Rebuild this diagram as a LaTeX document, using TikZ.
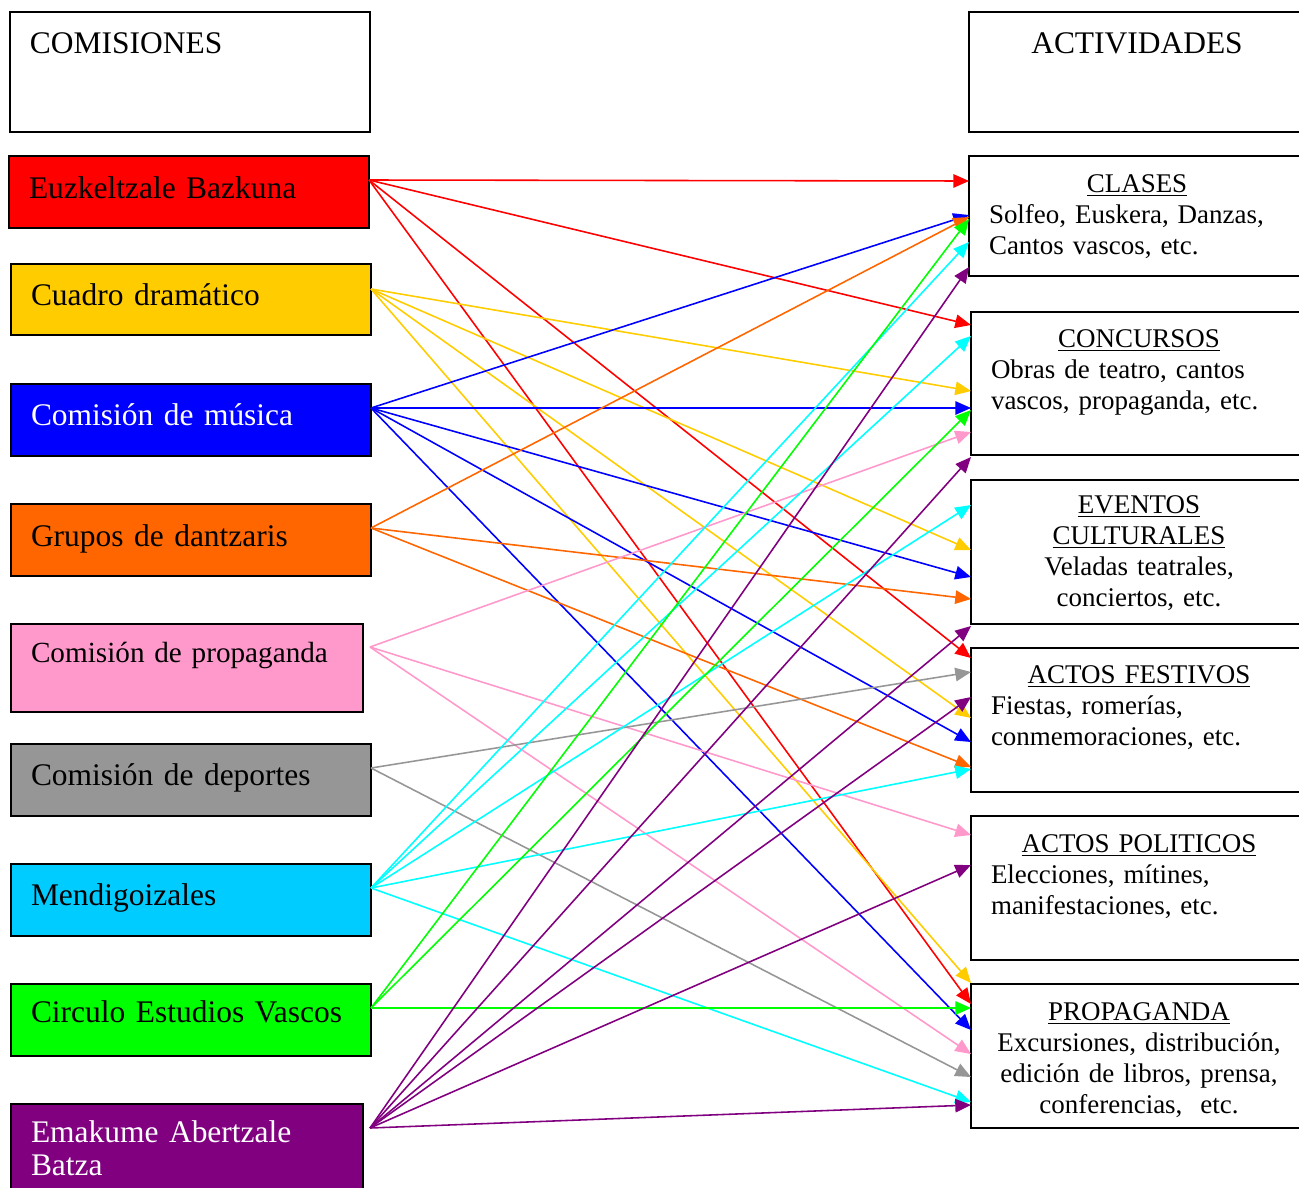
\documentclass[tikz,border=0pt]{standalone}
\usepackage{fontspec}
\setmainfont{Liberation Serif}
\usetikzlibrary{arrows.meta}

\definecolor{rojo}{HTML}{FF0000}
\definecolor{amarillo}{HTML}{FFCC00}
\definecolor{azul}{HTML}{0000FF}
\definecolor{naranja}{HTML}{FF6600}
\definecolor{rosa}{HTML}{FF99CC}
\definecolor{gris}{HTML}{969696}
\definecolor{celeste}{HTML}{00CCFF}
\definecolor{cian}{HTML}{00FFFF}
\definecolor{verde}{HTML}{00FF00}
\definecolor{morado}{HTML}{800080}

\newlength{\upx}
\setlength{\upx}{0.445pt}
\newcommand{\titulo}[1]{{\centering\underline{#1}\par}}

\begin{document}
\begin{tikzpicture}[x=\upx, y=-\upx,
  caja/.style={draw, line width=0.9pt, anchor=north west, inner ysep=0pt, inner xsep=20\upx, outer sep=0pt},
  comision/.style={caja, font=\fontsize{14}{14.7}\selectfont, text width=320\upx, align=left},
  actividad/.style={caja, font=\fontsize{12}{13.8}\selectfont, text width=296\upx, align=left},
  flecha/.style={line width=0.7pt, -{Triangle[length=7pt, width=6pt]}}]
\useasboundingbox (0, 0) rectangle (1299, 1187);
\clip (0, 0) rectangle (1299, 1187);

% comisiones
\node[comision, text height=41\upx, text depth=79\upx] (comisiones) at (10, 12) {COMISIONES};
\node[comision, fill=rojo, text height=42\upx, text depth=30\upx] (eb) at (9, 156) {Euzkeltzale Bazkuna};
\node[comision, fill=amarillo, text height=41\upx, text depth=30\upx] (cd) at (11, 264) {Cuadro dramático};
\node[comision, fill=azul, text=white, text height=41\upx, text depth=31\upx] (cm) at (11, 384) {Comisión de música};
\node[comision, fill=naranja, text height=42\upx, text depth=30\upx] (gd) at (11, 504) {Grupos de dantzaris};
\node[comision, fill=rosa, font=\fontsize{13}{14.7}\selectfont, text width=312\upx, text height=38\upx, text depth=50\upx] (cp) at (11, 624) {\mbox{Comisión de propaganda}};
\node[comision, fill=gris, text height=41\upx, text depth=31\upx] (cdep) at (11, 744) {Comisión de deportes};
\node[comision, fill=celeste, text height=41\upx, text depth=31\upx] (mg) at (11, 864) {Mendigoizales};
\node[comision, fill=verde, text height=38\upx, text depth=34\upx] (cev) at (11, 984) {Circulo Estudios Vascos};
\node[comision, fill=morado, text=white, text width=312\upx, text height=38\upx, text depth=62\upx] (eab) at (11, 1104) {Emakume Abertzale\\Batza};

% actividades
\node[actividad, font=\fontsize{14}{14.7}\selectfont, align=center, text height=41\upx, text depth=79\upx] (actividades) at (969, 12) {ACTIVIDADES};
\node[actividad, text height=36\upx, text depth=84\upx] (clases) at (969, 156) {\titulo{CLASES}Solfeo, Euskera, Danzas,\\Cantos vascos, etc.};
\node[actividad, text height=35\upx, text depth=108\upx] (concursos) at (971, 312) {\titulo{CONCURSOS}Obras de teatro, cantos\\vascos, propaganda, etc.};
\node[actividad, align=center, text height=33\upx, text depth=111\upx] (eventos) at (971, 480) {\underline{EVENTOS}\\\underline{CULTURALES}\\Veladas teatrales,\\conciertos, etc.};
\node[actividad, text height=35\upx, text depth=109\upx] (festivos) at (971, 648) {\titulo{ACTOS FESTIVOS}Fiestas, romerías,\\conmemoraciones, etc.};
\node[actividad, text height=36\upx, text depth=108\upx] (politicos) at (971, 816) {\titulo{ACTOS POLITICOS}Elecciones, mítines,\\manifestaciones, etc.};
\node[actividad, align=center, text height=36\upx, text depth=108\upx] (propaganda) at (971, 984) {\underline{PROPAGANDA}\\Excursiones, distribución,\\edición de libros, prensa,\\conferencias,~ etc.};

% salidas
\coordinate (eb-s) at ([yshift=-24\upx]eb.north east);
\coordinate (cd-s) at ([yshift=-25\upx]cd.north east);
\coordinate (cm-s) at ([yshift=-24\upx]cm.north east);
\coordinate (gd-s) at ([yshift=-24\upx]gd.north east);
\coordinate (cp-s) at ([xshift=7\upx, yshift=-23\upx]cp.north east);
\coordinate (cdep-s) at ([yshift=-24\upx]cdep.north east);
\coordinate (mg-s) at ([yshift=-24\upx]mg.north east);
\coordinate (cev-s) at ([yshift=-24\upx]cev.north east);
\coordinate (eab-s) at ([xshift=7\upx, yshift=-24\upx]eab.north east);

\draw[flecha, rojo] (eb-s) -- (clases.west |- 0, 181);
\draw[flecha, rojo] (eb-s) -- (concursos.west |- 0, 325);
\draw[flecha, rojo] (eb-s) -- (festivos.west |- 0, 658);
\draw[flecha, rojo] (eb-s) -- (propaganda.west |- 0, 1004);

\draw[flecha, amarillo] (cd-s) -- (concursos.west |- 0, 391);
\draw[flecha, amarillo] (cd-s) -- (eventos.west |- 0, 550);
\draw[flecha, amarillo] (cd-s) -- (festivos.west |- 0, 718);
\draw[flecha, amarillo] (cd-s) -- (propaganda.west |- 0, 983);

\draw[flecha, azul] (cm-s) -- (clases.west |- 0, 215);
\draw[flecha, azul] (cm-s) -- (concursos.west |- 0, 408);
\draw[flecha, azul] (cm-s) -- (eventos.west |- 0, 577);
\draw[flecha, azul] (cm-s) -- (festivos.west |- 0, 742);
\draw[flecha, azul] (cm-s) -- (propaganda.west |- 0, 1030);

\draw[flecha, naranja] (gd-s) -- (clases.west |- 0, 217);
\draw[flecha, naranja] (gd-s) -- (eventos.west |- 0, 599);
\draw[flecha, naranja] (gd-s) -- (festivos.west |- 0, 767);

\draw[flecha, rosa] (cp-s) -- (concursos.west |- 0, 432);
\draw[flecha, rosa] (cp-s) -- (politicos.west |- 0, 835);
\draw[flecha, rosa] (cp-s) -- (propaganda.west |- 0, 1054);

\draw[flecha, gris] (cdep-s) -- (festivos.west |- 0, 672);
\draw[flecha, gris] (cdep-s) -- (propaganda.west |- 0, 1077);

\draw[flecha, cian] (mg-s) -- (clases.west |- 0, 242);
\draw[flecha, cian] (mg-s) -- (concursos.west |- 0, 336);
\draw[flecha, cian] (mg-s) -- (eventos.west |- 0, 505);
\draw[flecha, cian] (mg-s) -- (festivos.west |- 0, 769);
\draw[flecha, cian] (mg-s) -- (propaganda.west |- 0, 1102);

\draw[flecha, verde] (cev-s) -- (clases.west |- 0, 219);
\draw[flecha, verde] (cev-s) -- (concursos.west |- 0, 410);
\draw[flecha, verde] (cev-s) -- (propaganda.west |- 0, 1008);

\draw[flecha, morado] (eab-s) -- (clases.west |- 0, 267);
\draw[flecha, morado] (eab-s) -- (concursos.west |- 0, 457);
\draw[flecha, morado] (eab-s) -- (eventos.west |- 0, 626);
\draw[flecha, morado] (eab-s) -- (festivos.west |- 0, 697);
\draw[flecha, morado] (eab-s) -- (politicos.west |- 0, 865);
\draw[flecha, morado] (eab-s) -- (propaganda.west |- 0, 1105);

\end{tikzpicture}
\end{document}
